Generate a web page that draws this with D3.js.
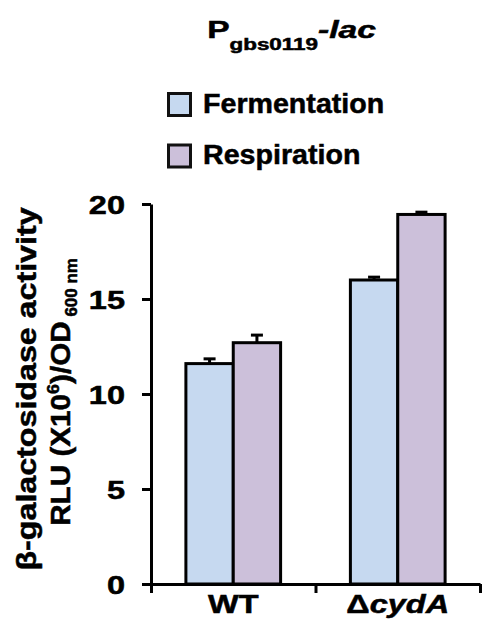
<!DOCTYPE html>
<html>
<head>
<meta charset="utf-8">
<title>Pgbs0119-lac activity</title>
<script src="https://d3js.org/d3.v7.min.js"></script>
<style>
    body { margin: 0; background: #fff; }
    svg text { font-family: "Liberation Sans", Arial, sans-serif; font-weight: bold; fill: #000; stroke: #000; stroke-width: 0.5px; }
</style>
</head>
<body>
<div id="chart"></div>
<script>
    // data
    var categories = ["WT", "\u0394cydA"]
    var seriesNames = ["Fermentation", "Respiration"]
    var fermentation = [11.6, 16.0]
    var respiration = [12.7, 19.45]
    var fermentationErr = [0.25, 0.15]
    var respirationErr = [0.4, 0.12]
    var yTicks = [0, 5, 10, 15, 20]
    var colors = ["#c6d9f0", "#ccc0da"]

    var width = 483, height = 623
    var plot = { left: 151, right: 480, top: 204, bottom: 584 }

    var svg = d3.select("#chart")
        .append("svg")
        .attr("width", width)
        .attr("height", height)

    var y = d3.scaleLinear()
        .domain([0, 20])
        .range([plot.bottom, plot.top])

    var x = d3.scaleBand()
        .domain(categories)
        .range([plot.left, plot.right])
        .padding(0)

    // bars inside each category group
    var xs = d3.scaleBand()
        .domain(seriesNames)
        .range([0, x.bandwidth()])
        .paddingInner(0)
        .paddingOuter(0.737)

    var rows = categories.map(function (c, i) {
        return {
            cat: c,
            values: [
                { key: seriesNames[0], v: fermentation[i], e: fermentationErr[i], color: colors[0] },
                { key: seriesNames[1], v: respiration[i], e: respirationErr[i], color: colors[1] }
            ]
        }
    })

    var groups = svg.selectAll(".group")
        .data(rows)
        .enter().append("g")
        .attr("class", "group")
        .attr("transform", function (d) { return "translate(" + x(d.cat) + ",0)" })

    groups.selectAll("rect")
        .data(function (d) { return d.values })
        .enter().append("rect")
        .attr("x", function (d) { return xs(d.key) })
        .attr("y", function (d) { return y(d.v) })
        .attr("width", xs.bandwidth())
        .attr("height", function (d) { return y(0) - y(d.v) })
        .attr("fill", function (d) { return d.color })
        .attr("stroke", "#000")
        .attr("stroke-width", 3)

    // error bars (upper half only, as in the figure)
    var err = groups.selectAll(".err")
        .data(function (d) { return d.values })
        .enter().append("g")
        .attr("class", "err")
        .attr("stroke", "#000")
        .attr("stroke-width", 3)

    err.append("line")
        .attr("x1", function (d) { return xs(d.key) + xs.bandwidth() / 2 })
        .attr("x2", function (d) { return xs(d.key) + xs.bandwidth() / 2 })
        .attr("y1", function (d) { return y(d.v) })
        .attr("y2", function (d) { return y(d.v + d.e) })

    err.append("line")
        .attr("x1", function (d) { return xs(d.key) + xs.bandwidth() / 2 - 6 })
        .attr("x2", function (d) { return xs(d.key) + xs.bandwidth() / 2 + 6 })
        .attr("y1", function (d) { return y(d.v + d.e) })
        .attr("y2", function (d) { return y(d.v + d.e) })

    // y axis
    var yAxis = svg.append("g")
        .attr("transform", "translate(" + plot.left + ",0)")
        .call(d3.axisLeft(y).tickValues(yTicks).tickSize(9).tickSizeOuter(0))
    yAxis.selectAll("path, line").attr("stroke", "#000").attr("stroke-width", 3)
    yAxis.selectAll("text")
        .attr("x", 0)
        .attr("dy", "0.36em")
        .attr("transform", "translate(-26,0) scale(1.3,1)")
        .style("font-size", "25px")

    // x axis: baseline with ticks between the groups
    var xEdges = d3.scaleLinear().domain([0, categories.length]).range([plot.left, plot.right])
    var xTickAxis = svg.append("g")
        .attr("transform", "translate(0," + plot.bottom + ")")
        .call(d3.axisBottom(xEdges).tickValues(d3.range(categories.length + 1)).tickFormat("").tickSize(9).tickSizeOuter(0))
    xTickAxis.selectAll("path, line").attr("stroke", "#000").attr("stroke-width", 3)

    var xAxis = svg.append("g")
        .attr("transform", "translate(0," + plot.bottom + ")")
        .call(d3.axisBottom(x).tickSize(0).tickPadding(11))
    xAxis.select(".domain").remove()
    xAxis.selectAll("text")
        .style("font-size", "25px")
        .attr("transform", "scale(1.3,1)")
        .each(function (d) {
            var t = d3.select(this).text("")
            if (d.charAt(0) === "\u0394") {
                t.append("tspan").text("\u0394")
                t.append("tspan").style("font-style", "italic").text(d.slice(1))
            } else {
                t.append("tspan").text(d)
            }
        })

    // title
    var title = svg.append("text")
        .attr("text-anchor", "middle")
        .attr("transform", "translate(291.5,38) scale(1.4,1)")
        .style("font-size", "24px")
    title.append("tspan").text("P")
    title.append("tspan").attr("dy", 12).style("font-size", "16px").text("gbs0119")
    title.append("tspan").attr("dy", -12).style("font-style", "italic").text("-lac")

    // legend
    var ly = d3.scalePoint().domain(seriesNames).range([104.5, 156])
    var legend = svg.selectAll(".legend")
        .data(seriesNames)
        .enter().append("g")
        .attr("class", "legend")
        .attr("transform", function (d) { return "translate(167," + ly(d) + ")" })

    legend.append("rect")
        .attr("x", 1.5)
        .attr("y", -11)
        .attr("width", 22)
        .attr("height", 22)
        .attr("fill", function (d, i) { return colors[i] })
        .attr("stroke", "#111")
        .attr("stroke-width", 3)

    legend.append("text")
        .attr("transform", "translate(36,0) scale(1.06,1)")
        .attr("dy", "0.31em")
        .style("font-size", "27px")
        .text(function (d) { return d })

    // y axis title, two lines
    svg.append("text")
        .attr("text-anchor", "middle")
        .attr("transform", "translate(36,389) rotate(-90) scale(1.15,1)")
        .style("font-size", "28px")
        .text("\u03b2-galactosidase activity")

    var yt = svg.append("text")
        .attr("text-anchor", "middle")
        .attr("transform", "translate(70,392) rotate(-90) scale(1.06,1)")
        .style("font-size", "28px")
    yt.append("tspan").text("RLU (X10")
    yt.append("tspan").attr("dy", -11).style("font-size", "17px").text("6")
    yt.append("tspan").attr("dy", 11).text(")/OD")
    yt.append("tspan").attr("dy", 7).style("font-size", "16px").text(" 600 nm")
</script>
</body>
</html>
